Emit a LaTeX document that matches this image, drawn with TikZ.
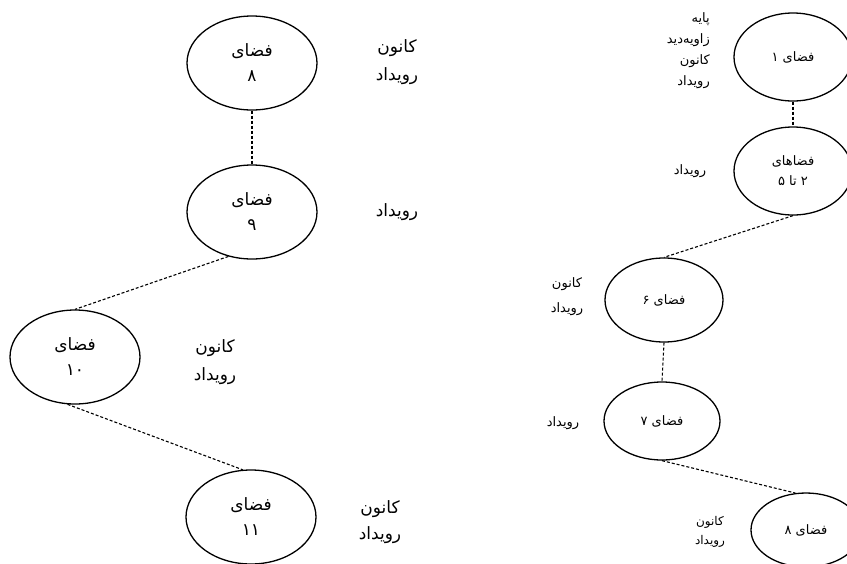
\documentclass[tikz,border=0pt]{standalone}
\usepackage{fontspec}
\usepackage{tikz}
\usetikzlibrary{shapes.geometric}
\usetikzlibrary{positioning}
\TeXXeTstate=1
\newfontfamily\arabicfont[Script=Arabic]{DejaVu Sans}
\newcommand{\fa}[1]{{\arabicfont\beginR #1\endR}}
\begin{document}
\begin{tikzpicture}
  [
    x=1pt,y=-1pt,
    space/.style={
      draw,
      ellipse,
      line width=1.3pt,
      inner sep=0pt,
      align=center
    },
    big/.style={
      space,
      minimum width=130pt,
      minimum height=94pt,
      font=\fontsize{17}{25}\selectfont
    },
    small/.style={
      space,
      font=\fontsize{13}{20}\selectfont
    },
    note/.style={
      align=center,
      inner sep=0pt,
      font=\fontsize{17}{28}\selectfont
    },
    smallnote/.style={
      note,
      font=\fontsize{13}{23}\selectfont
    },
    link/.style={
      line width=1.1pt,
      dash pattern=on 3pt off 2pt
    }
  ]
  \useasboundingbox (0,0) rectangle (847,563);
  % left column
  \node [big] (s8l) at (252,63) {\fa{فضای}\\\fa{۸}};
  \node [big] (s9) at (252,212) {\fa{فضای}\\\fa{۹}};
  \node [big] (s10) at (75,357) {\fa{فضای}\\\fa{۱۰}};
  \node [big] (s11) at (251,517) {\fa{فضای}\\\fa{۱۱}};
  \draw [link] (s8l.south) -- (s9.north);
  \draw [link] (s9.242) -- (s10.north);
  \draw [link] (s10.261) -- (s11.100);
  % left labels
  \node [note] (n8l) at (397,62) {\fa{کانون}\\\fa{رویداد}};
  \node [note] (n9) at (397,212) {\fa{رویداد}};
  \node [note] (n10) at (215,362) {\fa{کانون}\\\fa{رویداد}};
  \node [note,font=\fontsize{17}{26}\selectfont] (n11) at (380,522) {\fa{کانون}\\\fa{رویداد}};
  % right column
  \node [small,minimum width=118pt,minimum height=88pt] (s1) at (793,57) {\fa{فضای ۱}};
  \node [small,minimum width=118pt,minimum height=88pt] (s25) at (793,171) {\fa{فضاهای}\\\fa{۲ تا ۵}};
  \node [small,minimum width=118pt,minimum height=84pt] (s6) at (664,300) {\fa{فضای ۶}};
  \node [small,minimum width=116pt,minimum height=78pt] (s7) at (662,421) {\fa{فضای ۷}};
  \node [small,minimum width=110pt,minimum height=74pt] (s8r) at (806,530) {\fa{فضای ۸}};
  \draw [link] (s1.south) -- (s25.north);
  \draw [link] (s25.south) -- (s6.north);
  \draw [link] (s6.south) -- (s7.north);
  \draw [link] (s7.south) -- (s8r.106);
  % right labels
  \node [smallnote,align=right,anchor=east,font=\fontsize{13}{21}\selectfont] (n1) at (710,51) {\fa{پایه}\\\fa{زاویه‌دید}\\\fa{کانون}\\\fa{رویداد}};
  \node [smallnote] (n25) at (690,171) {\fa{رویداد}};
  \node [smallnote,font=\fontsize{13}{25}\selectfont] (n6) at (567,297) {\fa{کانون}\\\fa{رویداد}};
  \node [smallnote] (n7) at (563,423) {\fa{رویداد}};
  \node [smallnote,font=\fontsize{12}{19}\selectfont] (n8r) at (710,532) {\fa{کانون}\\\fa{رویداد}};
\end{tikzpicture}
\end{document}
